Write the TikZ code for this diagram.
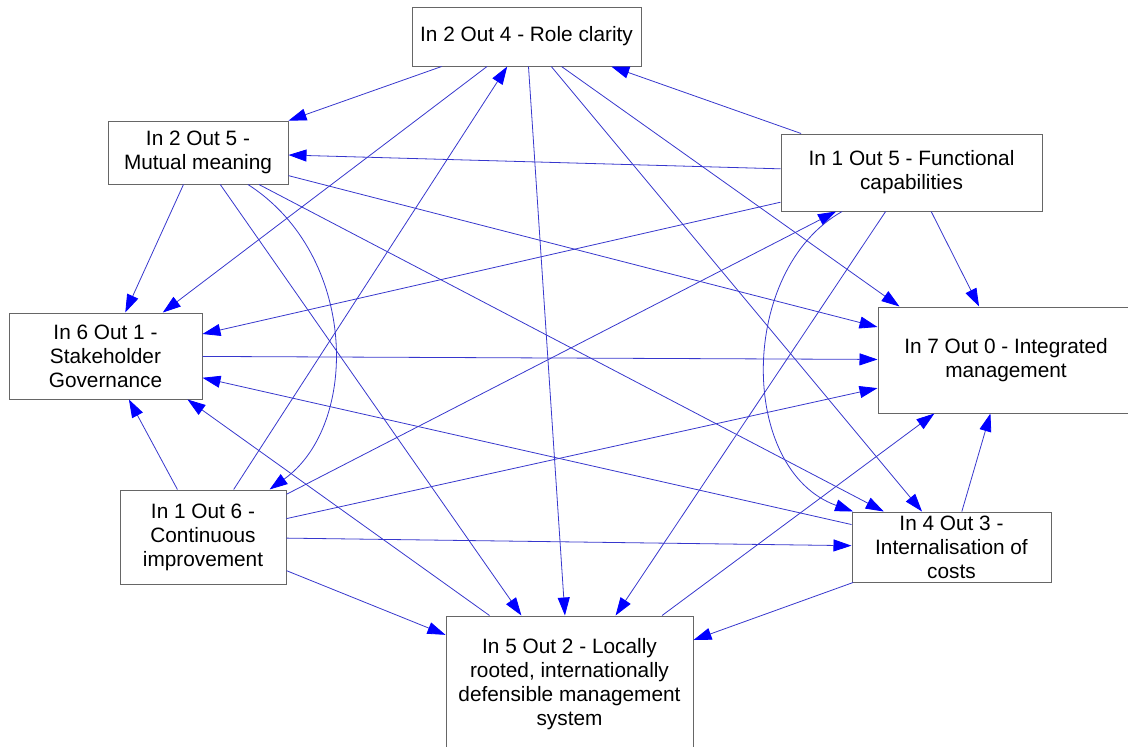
\documentclass[tikz,border=0pt]{standalone}
\usepackage{fontspec}
\setmainfont{Liberation Sans}
\usetikzlibrary{arrows.meta,calc}
\definecolor{linkblue}{RGB}{55,55,205}
\definecolor{tipblue}{RGB}{0,0,255}

\begin{document}
\begin{tikzpicture}[x=1pt,y=-1pt,
    box/.style={draw=black!60,fill=white,line width=1pt,inner sep=0pt,align=center,
        font=\fontsize{20.8}{24}\selectfont},
    link/.style={draw=linkblue,line width=0.8pt,
        -{Triangle[length=18pt,width=12pt,color=tipblue]}}]
    \useasboundingbox (0,0) rectangle (1128,747);
    \node[box,minimum width=229pt,minimum height=59pt] (role) at (526.5,36.5) {In 2 Out 4 - Role clarity};
    \node[box,minimum width=180pt,minimum height=63pt] (mutual) at (198,152.5) {In 2 Out 5 -\\Mutual meaning};
    \node[box,minimum width=261pt,minimum height=77pt] (func) at (911.5,172.5) {In 1 Out 5 - Functional\\capabilities};
    \node[box,minimum width=193pt,minimum height=86pt] (stake) at (105.5,356) {In 6 Out 1 -\\Stakeholder\\Governance};
    \node[box,minimum width=256pt,minimum height=106pt] (integ) at (1006,360) {In 7 Out 0 - Integrated\\management};
    \node[box,minimum width=166pt,minimum height=94pt] (cont) at (203,537) {In 1 Out 6 -\\Continuous\\improvement};
    \node[box,minimum width=199pt,minimum height=70pt] (intern) at (951.5,547) {In 4 Out 3 -\\Internalisation of\\costs};
    \node[box,minimum width=247pt,minimum height=137pt] (local) at (569.5,684.5) {In 5 Out 2 - Locally\\rooted, internationally\\defensible management\\system};

    \foreach \a/\b in {role/mutual, role/stake, role/local, role/intern,
                       mutual/stake, mutual/local, mutual/integ, mutual/intern,
                       func/role, func/mutual, func/stake, func/local, func/integ,
                       stake/integ,
                       cont/stake, cont/role, cont/func, cont/integ, cont/intern, cont/local,
                       intern/integ, intern/stake, intern/local,
                       local/integ}
        \draw[link] (\a) -- (\b);
    \draw[link] ($(role.south west)+(150,0)$) -- ($(integ.north west)+(22,0)$);
    \draw[link] ($(local.north west)+(44,0)$) -- ($(stake.south east)+(-15,0)$);
    \draw[link] (mutual) .. controls (358,255) and (360,425) .. (cont);
    \draw[link] (func) .. controls (738,270) and (738,470) .. (intern);
\end{tikzpicture}
\end{document}
